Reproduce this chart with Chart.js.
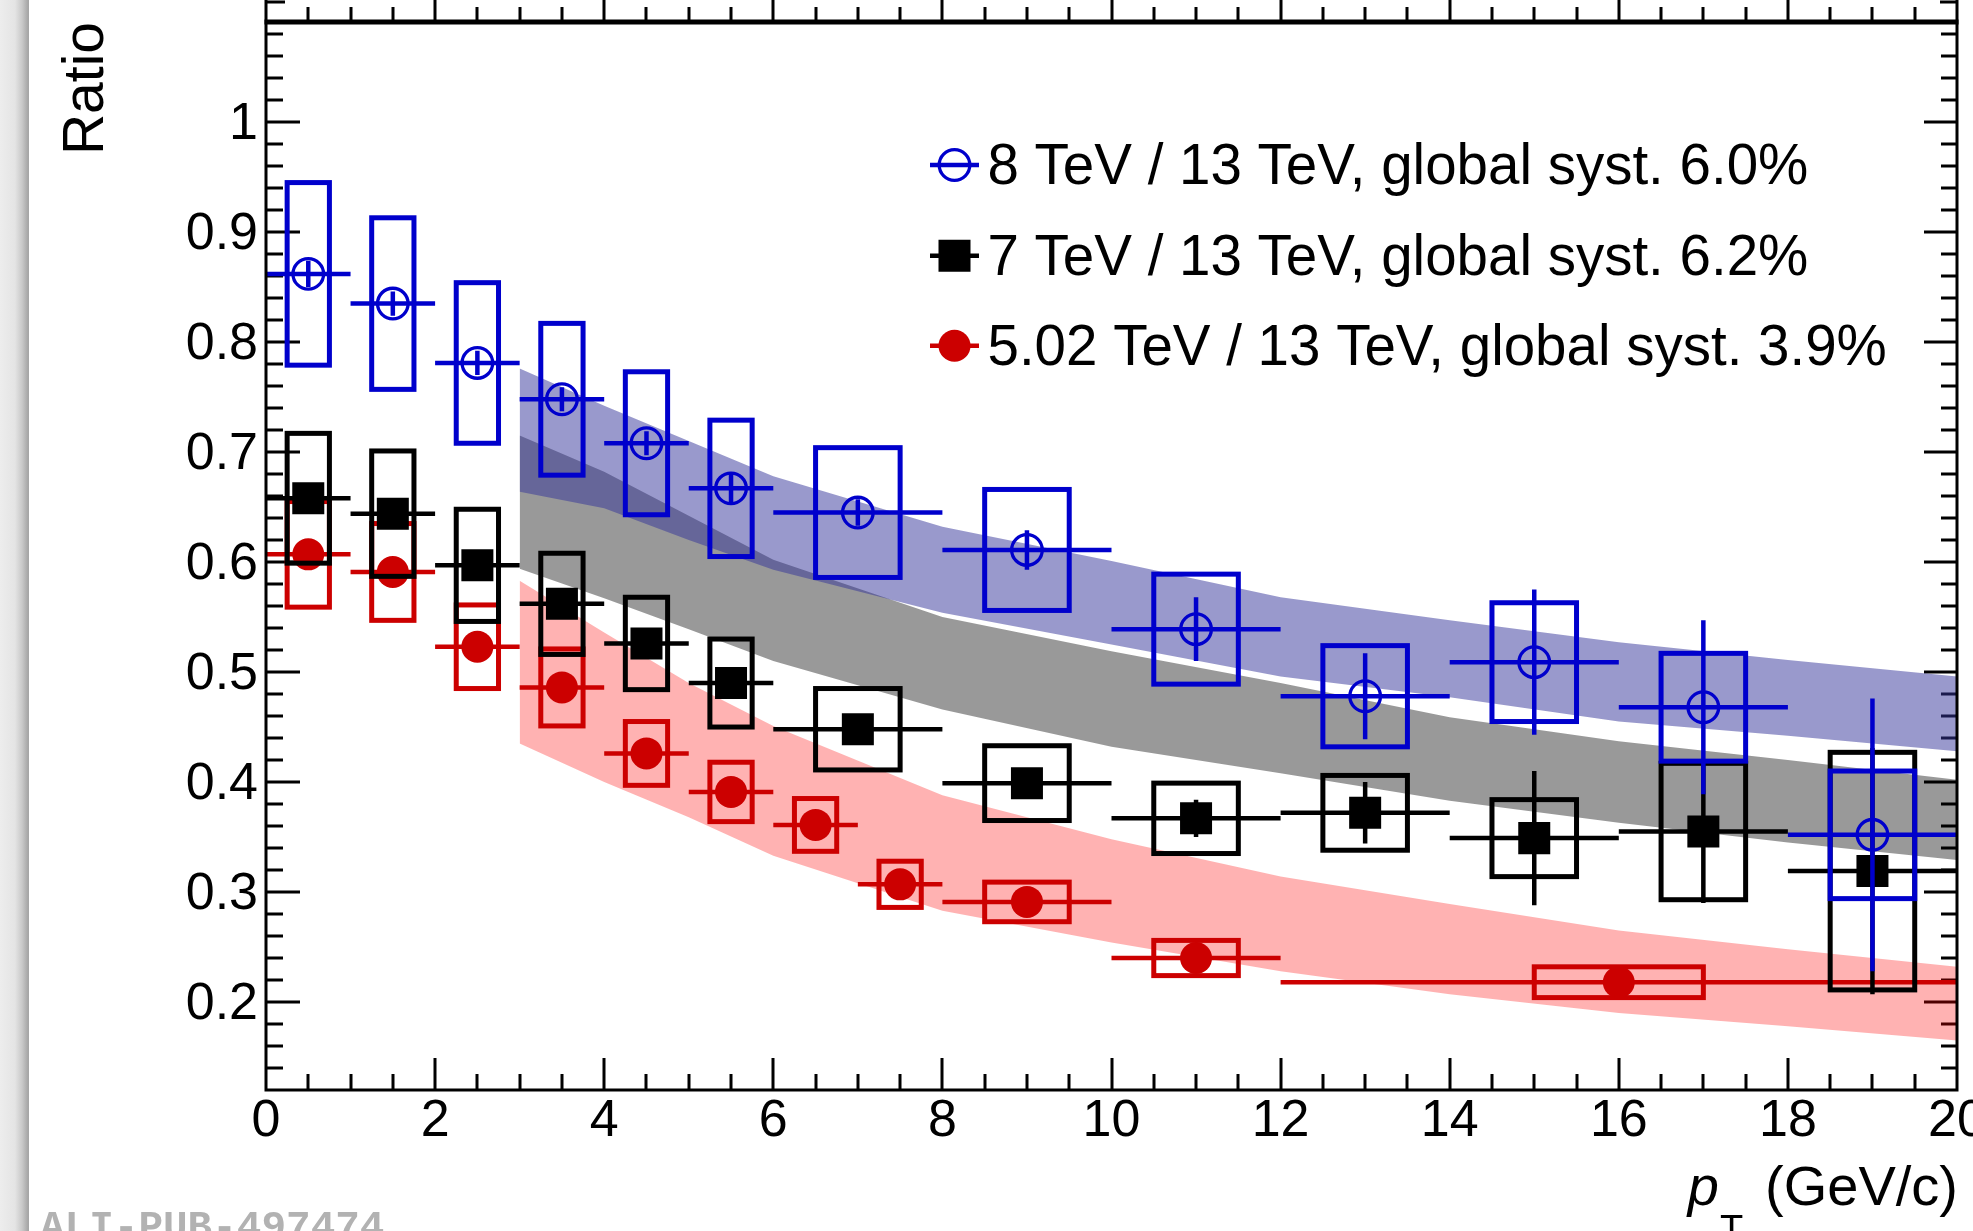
<!DOCTYPE html>
<html>
<head>
<meta charset="utf-8">
<title>Ratio vs pT</title>
<script src="https://cdn.jsdelivr.net/npm/chart.js@4.4.1/dist/chart.umd.min.js"></script>
<style>
  html, body { margin: 0; padding: 0; background: #fff; }
  #wrap { position: relative; width: 1973px; height: 1231px; overflow: hidden; background: #fff; }
  #cv { position: absolute; left: 0; top: 0; }
  #edge { position: absolute; left: 0; top: 0; width: 29px; height: 1231px;
          background: linear-gradient(to right, #ededed 0px, #e4e4e4 15px, #c9c9c9 22px, #a6a6a6 28px, #a6a6a6 29px); }
  #tag { position: absolute; left: 40px; top: 1208px; font: bold 41px "Liberation Mono", "DejaVu Sans Mono", monospace;
         line-height: 1; color: #b2b2b2; white-space: nowrap; }
</style>
</head>
<body>
<div id="wrap">
  <canvas id="cv" width="1973" height="1231"></canvas>
  <div id="edge"></div>
  <div id="tag">ALI-PUB-497474</div>
</div>
<script>
const FONT = '"Liberation Sans", Arial, Helvetica, sans-serif';

// pT bin edges (GeV/c)
const ptEdges    = [0, 1, 2, 3, 4, 5, 6, 8, 10, 12, 14, 16, 18, 20];   // 8 and 7 TeV ratios
const ptEdges502 = [0, 1, 2, 3, 4, 5, 6, 7, 8, 10, 12, 20];           // 5.02 TeV ratio

// 8 TeV / 13 TeV
const ratio8 = [0.862, 0.835, 0.781, 0.748, 0.708, 0.667, 0.645, 0.611, 0.539, 0.478, 0.509, 0.468, 0.352];
const stat8  = [0.012, 0.011, 0.011, 0.011, 0.011, 0.013, 0.012, 0.018, 0.029, 0.039, 0.066, 0.079, 0.124];
const syst8  = [0.083, 0.078, 0.073, 0.069, 0.065, 0.062, 0.059, 0.055, 0.050, 0.046, 0.054, 0.049, 0.058];

// 7 TeV / 13 TeV
const ratio7 = [0.658, 0.644, 0.597, 0.562, 0.526, 0.490, 0.448, 0.399, 0.367, 0.372, 0.349, 0.355, 0.319];
const stat7  = [0.008, 0.008, 0.008, 0.008, 0.008, 0.009, 0.010, 0.012, 0.017, 0.028, 0.061, 0.065, 0.112];
const syst7  = [0.059, 0.057, 0.051, 0.046, 0.042, 0.040, 0.037, 0.034, 0.032, 0.034, 0.035, 0.062, 0.108];

// 5.02 TeV / 13 TeV
const ratio502 = [0.607, 0.591, 0.523, 0.486, 0.426, 0.391, 0.361, 0.307, 0.291, 0.240, 0.218];
const stat502  = [0.005, 0.005, 0.005, 0.005, 0.006, 0.006, 0.007, 0.008, 0.008, 0.010, 0.010];
const syst502  = [0.048, 0.044, 0.038, 0.035, 0.029, 0.027, 0.024, 0.021, 0.018, 0.016, 0.014];

// model bands (upper / lower edge)
const bandPt    = [3, 4, 5, 6, 8, 10, 12, 14, 16, 18, 20];
const band8Hi   = [0.776, 0.742, 0.710, 0.678, 0.632, 0.601, 0.568, 0.547, 0.527, 0.511, 0.496];
const band8Lo   = [0.664, 0.649, 0.620, 0.593, 0.554, 0.525, 0.496, 0.477, 0.455, 0.442, 0.428];
const band7Hi   = [0.715, 0.682, 0.642, 0.602, 0.550, 0.519, 0.490, 0.459, 0.437, 0.420, 0.402];
const band7Lo   = [0.594, 0.567, 0.539, 0.510, 0.466, 0.432, 0.408, 0.383, 0.363, 0.345, 0.329];
const band502Hi = [0.583, 0.536, 0.490, 0.451, 0.388, 0.348, 0.314, 0.289, 0.265, 0.248, 0.232];
const band502Lo = [0.435, 0.400, 0.368, 0.333, 0.283, 0.254, 0.228, 0.207, 0.190, 0.178, 0.165];

// axis ticks and labels
const xTicks = [0, 2, 4, 6, 8, 10, 12, 14, 16, 18, 20];
const xTickLabels = ['0', '2', '4', '6', '8', '10', '12', '14', '16', '18', '20'];
const yTicks = [0.2, 0.3, 0.4, 0.5, 0.6, 0.7, 0.8, 0.9, 1.0];
const yTickLabels = ['0.2', '0.3', '0.4', '0.5', '0.6', '0.7', '0.8', '0.9', '1'];

const legendLabels = [
  '8 TeV / 13 TeV, global syst. 6.0%',
  '7 TeV / 13 TeV, global syst. 6.2%',
  '5.02 TeV / 13 TeV, global syst. 3.9%'
];

const BLUE = '#0000cc', BLACK = '#000000', RED = '#cc0000';

const centres = e => e.slice(0, -1).map((lo, i) => (lo + e[i + 1]) / 2);
const points = (e, v) => centres(e).map((x, i) => ({ x, y: v[i] }));
const bandPts = v => bandPt.map((x, i) => ({ x, y: v[i] }));

// per-series error information, keyed by dataset index
const series = {
  0: { edges: ptEdges,    val: ratio8,   stat: stat8,   syst: syst8,   color: BLUE },
  1: { edges: ptEdges,    val: ratio7,   stat: stat7,   syst: syst7,   color: BLACK },
  2: { edges: ptEdges502, val: ratio502, stat: stat502, syst: syst502, color: RED }
};

function markerSet(label, data, color, style, radius, border, fill, order) {
  return {
    label, data, order, showLine: false,
    pointStyle: style, pointRadius: radius, pointHoverRadius: radius,
    pointBorderWidth: border, pointBorderColor: color, pointBackgroundColor: fill,
    borderColor: color, backgroundColor: fill
  };
}
function bandSet(label, data, fillTarget, color, order) {
  return {
    label, data, order, showLine: true, tension: 0, pointRadius: 0,
    borderWidth: 0, borderColor: 'rgba(0,0,0,0)',
    fill: fillTarget === null ? false : fillTarget, backgroundColor: color
  };
}

// boxes (systematic) and bars (bin width, statistical) drawn through the scales
const errorPlugin = {
  id: 'errors',
  beforeDatasetDraw(chart, args) {
    const s = series[args.index];
    if (!s) return;
    const { ctx, scales: { x, y } } = chart;
    ctx.save();
    ctx.strokeStyle = s.color;
    ctx.lineJoin = 'miter';
    for (let i = 0; i < s.val.length; i++) {
      const lo = s.edges[i], hi = s.edges[i + 1], c = (lo + hi) / 2;
      const hw = Math.min((hi - lo) / 4, 1);
      const bx0 = x.getPixelForValue(c - hw), bx1 = x.getPixelForValue(c + hw);
      const by0 = y.getPixelForValue(s.val[i] + s.syst[i]), by1 = y.getPixelForValue(s.val[i] - s.syst[i]);
      ctx.lineWidth = 5;
      ctx.strokeRect(bx0, by0, bx1 - bx0, by1 - by0);
      ctx.lineWidth = 4.5;
      ctx.beginPath();
      const py = y.getPixelForValue(s.val[i]);
      ctx.moveTo(x.getPixelForValue(lo), py);
      ctx.lineTo(x.getPixelForValue(hi), py);
      const px = x.getPixelForValue(c);
      ctx.moveTo(px, y.getPixelForValue(s.val[i] + s.stat[i]));
      ctx.lineTo(px, y.getPixelForValue(s.val[i] - s.stat[i]));
      ctx.stroke();
    }
    ctx.restore();
  }
};

// tick marks on all sides (drawn under the bands), frame lines drawn on top
const framePlugin = {
  id: 'frame',
  beforeDatasetsDraw(chart) {
    const { ctx, chartArea: a, scales: { x, y } } = chart;
    ctx.save();
    ctx.strokeStyle = '#000';
    ctx.lineWidth = 3;
    ctx.beginPath();
    for (let k = 7; k <= 54; k++) {
      const py = Math.round(y.getPixelForValue(k * 0.02));
      const major = k % 5 === 0;
      ctx.moveTo(a.left, py);  ctx.lineTo(a.left + (major ? 34 : 17), py);
      ctx.moveTo(a.right, py); ctx.lineTo(a.right - (major ? 33 : 16), py);
    }
    for (let k = 1; k < 40; k++) {
      const px = Math.round(x.getPixelForValue(k * 0.5));
      const major = k % 4 === 0;
      ctx.moveTo(px, a.bottom); ctx.lineTo(px, a.bottom - (major ? 32 : 16));
      ctx.moveTo(px, a.top);    ctx.lineTo(px, a.top - (major ? 24 : 15));
    }
    // ticks of the pad above
    ctx.moveTo(a.left, 2);  ctx.lineTo(a.left + 19, 2);
    ctx.moveTo(a.right, 2); ctx.lineTo(a.right - 17, 2);
    ctx.stroke();
    ctx.restore();
  },
  afterDatasetsDraw(chart) {
    const { ctx, chartArea: a } = chart;
    ctx.save();
    ctx.strokeStyle = '#000';
    ctx.lineWidth = 3;
    ctx.beginPath();
    ctx.moveTo(a.left, 0);  ctx.lineTo(a.left, a.bottom + 1.5);
    ctx.moveTo(a.right, 0); ctx.lineTo(a.right, a.bottom + 1.5);
    ctx.moveTo(a.left - 1.5, a.bottom); ctx.lineTo(a.right + 1.5, a.bottom);
    ctx.stroke();
    ctx.lineWidth = 5;
    ctx.beginPath();
    ctx.moveTo(a.left - 1.5, a.top); ctx.lineTo(a.right + 1.5, a.top);
    ctx.stroke();
    ctx.restore();
  }
};

// legend inside the frame and the x-axis title with italic p and subscript T
const textPlugin = {
  id: 'texts',
  afterDatasetsDraw(chart) {
    const { ctx, chartArea: a } = chart;
    ctx.save();
    const mx = a.left + 688.5, rows = [143, 233.7, 323.7];
    for (let i = 0; i < 3; i++) {
      const ds = chart.data.datasets[i];
      const cy = a.top + rows[i];
      ctx.strokeStyle = ds.pointBorderColor;
      ctx.lineWidth = 4.5;
      ctx.beginPath();
      ctx.moveTo(mx - 24.5, cy); ctx.lineTo(mx + 24.5, cy);
      ctx.stroke();
      ctx.fillStyle = ds.pointBackgroundColor;
      ctx.strokeStyle = ds.pointBorderColor;
      ctx.lineWidth = ds.pointBorderWidth;
      Chart.helpers.drawPoint(ctx, {
        pointStyle: ds.pointStyle, radius: ds.pointRadius, borderWidth: ds.pointBorderWidth, rotation: 0
      }, mx, cy);
      ctx.fillStyle = '#000';
      ctx.font = '56.5px ' + FONT;
      ctx.textAlign = 'left';
      ctx.textBaseline = 'alphabetic';
      ctx.fillText(legendLabels[i], mx + 33, cy + 19);
    }
    ctx.restore();
  },
  afterDraw(chart) {
    const { ctx, chartArea: a } = chart;
    ctx.save();
    ctx.fillStyle = '#000';
    ctx.textBaseline = 'alphabetic';
    ctx.textAlign = 'left';
    const base = 1205;
    ctx.font = '56px ' + FONT;
    const unit = '(GeV/c)';
    const wUnit = ctx.measureText(unit).width;
    const xUnit = a.right + 1 - wUnit;
    ctx.fillText(unit, xUnit, base);
    ctx.font = '38px ' + FONT;
    const wT = ctx.measureText('T').width;
    const xT = xUnit - 22 - wT;
    ctx.fillText('T', xT, base + 37);
    ctx.font = 'italic 56px ' + FONT;
    const wp = ctx.measureText('p').width;
    ctx.fillText('p', xT - 1 - wp, base);
    ctx.restore();
  }
};

const chart = new Chart(document.getElementById('cv'), {
  type: 'line',
  data: {
    datasets: [
      markerSet(legendLabels[0], points(ptEdges, ratio8), BLUE, 'circle', 15.3, 3.3, 'rgba(0,0,0,0)', 0),
      markerSet(legendLabels[1], points(ptEdges, ratio7), BLACK, 'rect', 22.63, 0, BLACK, 1),
      markerSet(legendLabels[2], points(ptEdges502, ratio502), RED, 'circle', 16, 0, RED, 2),
      bandSet('8 TeV band', bandPts(band8Hi), 4, 'rgba(51,51,153,0.5)', 4),
      bandSet('8 TeV band low', bandPts(band8Lo), null, 'rgba(51,51,153,0.5)', 4),
      bandSet('7 TeV band', bandPts(band7Hi), 6, 'rgba(0,0,0,0.4)', 5),
      bandSet('7 TeV band low', bandPts(band7Lo), null, 'rgba(0,0,0,0.4)', 5),
      bandSet('5.02 TeV band', bandPts(band502Hi), 8, 'rgba(255,0,0,0.3)', 6),
      bandSet('5.02 TeV band low', bandPts(band502Lo), null, 'rgba(255,0,0,0.3)', 6)
    ]
  },
  options: {
    responsive: false,
    devicePixelRatio: 1,
    animation: false,
    events: [],
    layout: { autoPadding: false, padding: { left: 0, right: 16, top: 22, bottom: 0 } },
    plugins: {
      legend: { display: false },
      tooltip: { enabled: false },
      filler: { drawTime: 'beforeDatasetDraw' }
    },
    scales: {
      x: {
        type: 'linear', position: 'bottom', min: 0, max: 20,
        grid: { display: false, drawTicks: false },
        border: { display: false },
        afterBuildTicks: s => { s.ticks = xTicks.map(v => ({ value: v })); },
        afterFit: s => { s.height = 141; s.paddingLeft = 0; s.paddingRight = 0; },
        ticks: {
          autoSkip: false, maxRotation: 0, padding: 0, color: '#000',
          font: { family: FONT, size: 52, lineHeight: 1.2 },
          callback: v => xTickLabels[xTicks.indexOf(v)]
        }
      },
      y: {
        type: 'linear', position: 'left', min: 0.12, max: 1.091,
        grid: { display: false, drawTicks: false },
        border: { display: false },
        afterBuildTicks: s => { s.ticks = yTicks.map(v => ({ value: v })); },
        afterFit: s => { s.width = 266; s.paddingTop = 0; s.paddingBottom = 0; },
        ticks: {
          autoSkip: false, padding: 8, color: '#000', labelOffset: 3,
          font: { family: FONT, size: 52, lineHeight: 1.2 },
          callback: v => yTickLabels[yTicks.indexOf(v)]
        },
        title: {
          display: true, text: 'Ratio', align: 'end', color: '#000',
          font: { family: FONT, size: 57, lineHeight: 1.2 },
          padding: { top: 53, bottom: 0 }
        }
      }
    }
  },
  plugins: [framePlugin, errorPlugin, textPlugin]
});
</script>
</body>
</html>
